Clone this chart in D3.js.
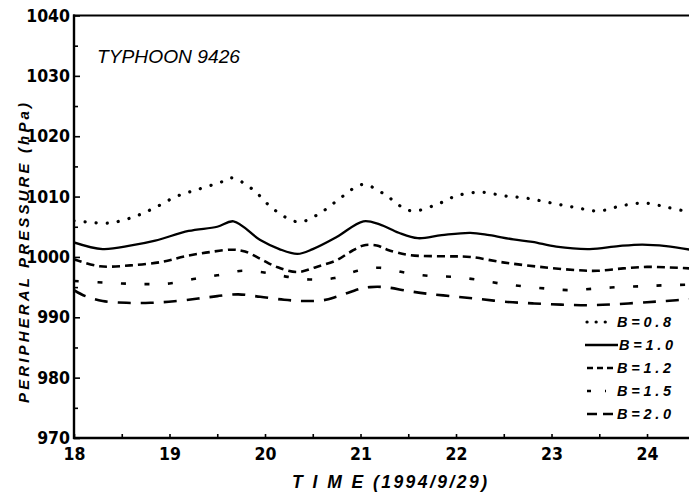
<!DOCTYPE html>
<html>
<head>
<meta charset="utf-8">
<script src="https://cdn.jsdelivr.net/npm/d3@7/dist/d3.min.js"></script>
<style>
  html, body { margin: 0; padding: 0; background: #fff; }
  svg { display: block; }
  .num { font-family: 'Liberation Sans Narrow', 'DejaVu Sans Condensed', 'Arial Narrow', sans-serif; font-weight: bold; font-stretch: condensed; }
  .ital { font-family: 'Liberation Sans', Arial, sans-serif; font-style: italic; }
</style>
</head>
<body>
<svg id="chart" width="689" height="493"></svg>
<script>
// ---- data (time in days of 1994/9, pressure in hPa) ----
const b08_t = [18.0, 18.12, 18.36, 18.62, 18.84, 19.07, 19.30, 19.54, 19.65, 19.87, 20.06, 20.26, 20.38, 20.60, 20.81, 21.02, 21.24, 21.45, 21.56, 21.80, 22.02, 22.27, 22.51, 22.75, 23.01, 23.25, 23.49, 23.74, 23.98, 24.22, 24.45];
const b08_v = [1006.0, 1005.8, 1005.6, 1006.6, 1008.1, 1010.0, 1011.2, 1012.4, 1013.1, 1011.2, 1008.3, 1006.2, 1005.8, 1007.5, 1010.0, 1012.0, 1010.5, 1008.1, 1007.6, 1008.7, 1010.2, 1010.7, 1010.1, 1009.7, 1008.9, 1008.2, 1007.6, 1008.5, 1008.9, 1008.2, 1007.4];

const b10_t = [18.0, 18.3, 18.6, 18.85, 19.2, 19.5, 19.67, 19.95, 20.15, 20.34, 20.5, 20.75, 21.03, 21.2, 21.4, 21.6, 21.85, 22.15, 22.35, 22.6, 22.8, 23.05, 23.4, 23.7, 23.95, 24.2, 24.45];
const b10_v = [1002.4, 1001.3, 1001.9, 1002.7, 1004.3, 1005.0, 1005.9, 1002.8, 1001.3, 1000.5, 1001.3, 1003.3, 1005.9, 1005.4, 1004.0, 1003.1, 1003.6, 1004.0, 1003.6, 1002.9, 1002.5, 1001.7, 1001.3, 1001.8, 1002.05, 1001.8, 1001.2];

const b12_t = [18.0, 18.27, 18.59, 18.93, 19.16, 19.42, 19.66, 19.79, 19.95, 20.13, 20.34, 20.54, 20.75, 20.89, 21.03, 21.17, 21.28, 21.52, 21.91, 22.15, 22.49, 22.88, 23.27, 23.48, 23.75, 24.0, 24.24, 24.45];
const b12_v = [999.6, 998.45, 998.6, 999.2, 1000.1, 1000.8, 1001.2, 1000.9, 999.7, 998.3, 997.5, 998.35, 999.45, 1000.8, 1001.9, 1001.9, 1001.2, 1000.3, 1000.1, 1000.0, 999.1, 998.35, 997.8, 997.7, 998.1, 998.35, 998.25, 998.1];

const b15_t = [18.0, 18.25, 18.5, 18.76, 19.0, 19.27, 19.5, 19.76, 20.02, 20.24, 20.49, 20.73, 20.97, 21.2, 21.47, 21.72, 21.97, 22.21, 22.46, 22.70, 22.95, 23.19, 23.45, 23.70, 23.95, 24.19, 24.45];
const b15_v = [996.0, 995.8, 995.6, 995.5, 995.6, 996.4, 996.95, 997.7, 997.35, 996.7, 996.25, 996.5, 997.7, 998.2, 997.4, 996.85, 996.7, 996.25, 995.6, 995.15, 994.75, 994.5, 994.75, 995.0, 995.15, 995.3, 995.4];

const b20_t = [18.0, 18.12, 18.3, 18.55, 18.8, 19.05, 19.3, 19.5, 19.72, 19.95, 20.2, 20.4, 20.6, 20.75, 21.0, 21.1, 21.25, 21.5, 21.7, 21.95, 22.2, 22.5, 22.8, 23.1, 23.4, 23.7, 24.0, 24.2, 24.45];
const b20_v = [994.5, 993.5, 992.7, 992.4, 992.4, 992.65, 993.1, 993.5, 993.8, 993.4, 992.9, 992.7, 992.8, 993.4, 994.75, 995.0, 995.0, 994.35, 993.9, 993.5, 993.1, 992.6, 992.3, 992.1, 992.0, 992.2, 992.5, 992.7, 993.0];

const seriesNames = ["B=0.8", "B=1.0", "B=1.2", "B=1.5", "B=2.0"];
const xMajorTicks = [18, 19, 20, 21, 22, 23, 24];
const xMinorTicks = [18.5, 19.5, 20.5, 21.5, 22.5, 23.5];
const yMajorTicks = [970, 980, 990, 1000, 1010, 1020, 1030, 1040];
const yMinorTicks = [975, 985, 995, 1005, 1015, 1025, 1035];
const titleText = "TYPHOON 9426";
const xTitle = "T I M E (1994/9/29)";
const yTitle = "PERIPHERAL PRESSURE (hPa)";

// ---- layout ----
const svg = d3.select("#chart");
const L = 74, R = 690, T = 15.5, B = 438;
const x = d3.scaleLinear().domain([18, 24.45]).range([L, R]);
const y = d3.scaleLinear().domain([970, 1040]).range([B, T]);

const styles = [
  { dash: "0.1,11", width: 3.2, cap: "round" },
  { dash: null, width: 2.3, cap: "butt" },
  { dash: "8,5", width: 2.6, cap: "butt" },
  { dash: "5,18.5", width: 2.6, cap: "butt" },
  { dash: "13,10", width: 2.6, cap: "butt" }
];
const tArr = [b08_t, b10_t, b12_t, b15_t, b20_t];
const vArr = [b08_v, b10_v, b12_v, b15_v, b20_v];

svg.append("defs").append("clipPath").attr("id", "plotclip")
  .append("rect").attr("x", L).attr("y", T).attr("width", R - L).attr("height", B - T);

const line = d3.line().x(d => x(d[0])).y(d => y(d[1])).curve(d3.curveCatmullRom.alpha(0.5));

const plot = svg.append("g").attr("clip-path", "url(#plotclip)");
tArr.forEach((ts, i) => {
  const pts = ts.map((t, j) => [t, vArr[i][j]]);
  const st = styles[i];
  plot.append("path").datum(pts)
    .attr("d", line)
    .attr("fill", "none")
    .attr("stroke", "#000")
    .attr("stroke-width", st.width)
    .attr("stroke-linecap", st.cap)
    .attr("stroke-dasharray", st.dash);
});

// ---- axes ----
const xAxisMajor = d3.axisBottom(x).tickValues(xMajorTicks).tickSize(-4).tickPadding(9).tickFormat(d3.format("d"));
const gx = svg.append("g").attr("transform", `translate(0,${B})`).call(xAxisMajor);
const xAxisMinor = d3.axisBottom(x).tickValues(xMinorTicks).tickSize(-4).tickFormat("");
const gx2 = svg.append("g").attr("transform", `translate(0,${B})`).call(xAxisMinor);

const yAxisMajor = d3.axisLeft(y).tickValues(yMajorTicks).tickSize(-6).tickPadding(4).tickFormat(d3.format("d"));
const gy = svg.append("g").attr("transform", `translate(${L},0)`).call(yAxisMajor);
const yAxisMinor = d3.axisLeft(y).tickValues(yMinorTicks).tickSize(-4).tickFormat("");
const gy2 = svg.append("g").attr("transform", `translate(${L},0)`).call(yAxisMinor);

[gx, gx2, gy, gy2].forEach(g => {
  g.select(".domain").remove();
  g.selectAll(".tick line").attr("stroke", "#000").attr("stroke-width", 1.6);
  g.selectAll(".tick text").attr("class", "num").attr("font-size", 17.5).attr("fill", "#000");
});
gx.selectAll(".tick text").attr("dy", "0.75em");

// frame lines
svg.append("line").attr("x1", L).attr("x2", L).attr("y1", T - 1).attr("y2", B + 1)
  .attr("stroke", "#000").attr("stroke-width", 2.4);
svg.append("line").attr("x1", L - 1).attr("x2", R).attr("y1", B).attr("y2", B)
  .attr("stroke", "#000").attr("stroke-width", 2.4);
svg.append("line").attr("x1", L - 1).attr("x2", R).attr("y1", T).attr("y2", T)
  .attr("stroke", "#000").attr("stroke-width", 1.8);

// ---- titles ----
svg.append("text").attr("class", "ital")
  .attr("x", 97).attr("y", 63)
  .attr("font-size", 18.5)
  .attr("textLength", 143).attr("lengthAdjust", "spacingAndGlyphs")
  .text(titleText);

svg.append("text").attr("class", "ital")
  .attr("x", 292).attr("y", 488)
  .attr("font-size", 17.5).attr("font-weight", "bold")
  .attr("textLength", 195).attr("lengthAdjust", "spacing")
  .text(xTitle);

svg.append("text").attr("class", "ital")
  .attr("transform", "translate(29,403) rotate(-90)")
  .attr("font-size", 15).attr("font-weight", "bold")
  .attr("textLength", 300).attr("lengthAdjust", "spacing")
  .text(yTitle);

// ---- legend ----
const legY = [322, 345, 368, 391, 414];
const legLines = [[587, 609], [585, 618], [587, 613], [587, 606], [587, 615]];
const legStyles = [
  { dash: "0.1,9", width: 3.2, cap: "round" },
  { dash: null, width: 2.3, cap: "butt" },
  { dash: "6,4", width: 2.6, cap: "butt" },
  { dash: "4,14", width: 2.6, cap: "butt" },
  { dash: "10,6", width: 2.6, cap: "butt" }
];
const leg = svg.append("g");
seriesNames.forEach((name, i) => {
  const st = legStyles[i];
  leg.append("line")
    .attr("x1", legLines[i][0]).attr("x2", legLines[i][1])
    .attr("y1", legY[i]).attr("y2", legY[i])
    .attr("stroke", "#000").attr("stroke-width", st.width)
    .attr("stroke-linecap", st.cap).attr("stroke-dasharray", st.dash);
  leg.append("text").attr("class", "ital")
    .attr("x", i === 1 ? 619 : 617).attr("y", legY[i] + 5)
    .attr("font-size", 14.5).attr("font-weight", "bold")
    .attr("textLength", 54).attr("lengthAdjust", "spacing")
    .text(name);
});
</script>
</body>
</html>
